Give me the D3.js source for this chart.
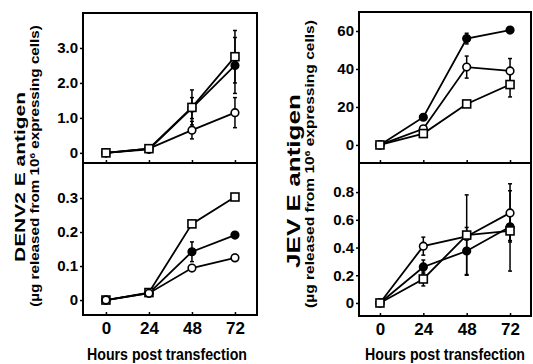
<!DOCTYPE html>
<html>
<head>
<meta charset="utf-8">
<script src="https://cdn.jsdelivr.net/npm/d3@7"></script>
<style>
  body { margin: 0; background: #fff; }
  text { font-family: "Liberation Sans", Arial, sans-serif; font-weight: bold; fill: #000; }
</style>
</head>
<body>
<script>
// hours post transfection
var hours = [0, 24, 48, 72];

// DENV2, upper panel
var denvTopSquare = [0, 0.12, 1.3, 2.75];
var denvTopSquareErr = [0, 0, 0.5, 0.75];
var denvTopFilled = [0, 0.1, 1.28, 2.5];
var denvTopFilledErr = [0, 0, 0.3, 0.8];
var denvTopOpen = [0, 0.12, 0.65, 1.15];
var denvTopOpenErr = [0, 0, 0.25, 0.43];

// DENV2, lower panel
var denvBotSquare = [0, 0.022, 0.224, 0.303];
var denvBotSquareErr = [0, 0, 0, 0];
var denvBotFilled = [0, 0.02, 0.142, 0.191];
var denvBotFilledErr = [0, 0, 0.029, 0.005];
var denvBotOpen = [0, 0.02, 0.094, 0.124];
var denvBotOpenErr = [0, 0, 0.005, 0.01];

// JEV, upper panel
var jevTopFilled = [0, 14.6, 56, 60.5];
var jevTopFilledErr = [0, 0, 2.8, 1];
var jevTopOpen = [0, 8.5, 41, 39];
var jevTopOpenErr = [0, 1.5, 5.8, 6.5];
var jevTopSquare = [0, 6, 21.6, 31.8];
var jevTopSquareErr = [0, 1, 1, 6.5];

// JEV, lower panel
var jevBotOpen = [0, 0.41, 0.48, 0.65];
var jevBotOpenErr = [0, 0.065, 0, 0.21];
var jevBotFilled = [0, 0.26, 0.375, 0.55];
var jevBotFilledErr = [0, 0.05, 0.17, 0.1];
var jevBotSquare = [0, 0.173, 0.49, 0.52];
var jevBotSquareErr = [0, 0.05, 0.29, 0.29];

// y ticks
var denvTopTicks = [0, 1, 2, 3];
var denvTopLabels = ["0", "1.0", "2.0", "3.0"];
var denvBotTicks = [0, 0.1, 0.2, 0.3];
var denvBotLabels = ["0", "0.1", "0.2", "0.3"];
var jevTopTicks = [0, 20, 40, 60];
var jevTopLabels = ["0", "20", "40", "60"];
var jevBotTicks = [0, 0.2, 0.4, 0.6, 0.8];
var jevBotLabels = ["0", "0.2", "0.4", "0.6", "0.8"];

var svg = d3.select("body").append("svg")
    .attr("width", 533)
    .attr("height", 364);

function series(vals, errs, shape) {
    return { shape: shape, pts: hours.map(function (h, i) { return { h: h, v: vals[i], e: errs[i] }; }) };
}

// series listed bottom-most first, so the last one is drawn on top
var panels = [
    { x0: 83, x1: 257, y0: 13, y1: 163, xd: [-12.8, 84.3], yd: [-0.29, 4.0], ticks: denvTopTicks, labels: denvTopLabels, bottom: false,
      series: [series(denvTopFilled, denvTopFilledErr, "fc"), series(denvTopOpen, denvTopOpenErr, "oc"), series(denvTopSquare, denvTopSquareErr, "sq")] },
    { x0: 83, x1: 257, y0: 163, y1: 315, xd: [-12.8, 84.3], yd: [-0.044, 0.403], ticks: denvBotTicks, labels: denvBotLabels, bottom: true,
      series: [series(denvBotFilled, denvBotFilledErr, "fc"), series(denvBotSquare, denvBotSquareErr, "sq"), series(denvBotOpen, denvBotOpenErr, "oc")] },
    { x0: 359, x1: 531, y0: 12, y1: 163, xd: [-11.6, 83.6], yd: [-9.5, 70], ticks: jevTopTicks, labels: jevTopLabels, bottom: false,
      series: [series(jevTopFilled, jevTopFilledErr, "fc"), series(jevTopOpen, jevTopOpenErr, "oc"), series(jevTopSquare, jevTopSquareErr, "sq")] },
    { x0: 359, x1: 531, y0: 163, y1: 316, xd: [-11.6, 83.6], yd: [-0.094, 1.01], ticks: jevBotTicks, labels: jevBotLabels, bottom: true,
      series: [series(jevBotFilled, jevBotFilledErr, "fc"), series(jevBotOpen, jevBotOpenErr, "oc"), series(jevBotSquare, jevBotSquareErr, "sq")] }
];

panels.forEach(function (p) {
    var x = d3.scaleLinear().domain(p.xd).range([p.x0, p.x1]);
    var y = d3.scaleLinear().domain(p.yd).range([p.y1, p.y0]);

    // y axis, ticks outward
    var ya = svg.append("g")
        .attr("transform", "translate(" + p.x0 + ",0)")
        .call(d3.axisLeft(y).tickValues(p.ticks).tickSize(3).tickPadding(2).tickSizeOuter(0)
            .tickFormat(function (d, i) { return p.labels[i]; }));
    ya.select(".domain").remove();
    ya.selectAll("line").attr("stroke", "#000").attr("stroke-width", 1.5);
    ya.selectAll("text").style("font-size", "15px").style("font-family", null);

    // x axis, ticks inward
    var xa = svg.append("g")
        .attr("transform", "translate(0," + p.y1 + ")")
        .call(d3.axisBottom(x).tickValues(hours).tickSize(-3).tickPadding(7).tickSizeOuter(0)
            .tickFormat(p.bottom ? d3.format("d") : ""));
    xa.select(".domain").remove();
    xa.selectAll("line").attr("stroke", "#000").attr("stroke-width", 1.5);
    xa.selectAll("text").style("font-size", "17px").style("font-family", null);

    var line = d3.line().x(function (d) { return x(d.h); }).y(function (d) { return y(d.v); });
    var g = svg.append("g");

    // error bars
    p.series.forEach(function (s) {
        s.pts.filter(function (d) { return d.e > 0; }).forEach(function (d) {
            var cx = x(d.h), t = y(d.v + d.e), b = y(d.v - d.e);
            g.append("line").attr("x1", cx).attr("x2", cx).attr("y1", t).attr("y2", b)
                .attr("stroke", "#000").attr("stroke-width", 1.5);
            [t, b].forEach(function (yy) {
                g.append("line").attr("x1", cx - 2).attr("x2", cx + 2).attr("y1", yy).attr("y2", yy)
                    .attr("stroke", "#000").attr("stroke-width", 1.5);
            });
        });
    });

    // lines
    p.series.forEach(function (s) {
        g.append("path").attr("d", line(s.pts)).attr("fill", "none")
            .attr("stroke", "#000").attr("stroke-width", 1.8);
    });

    // markers
    p.series.forEach(function (s) {
        s.pts.forEach(function (d) {
            var cx = x(d.h), cy = y(d.v);
            if (s.shape === "sq") {
                g.append("rect").attr("x", cx - 4).attr("y", cy - 4).attr("width", 8).attr("height", 8)
                    .attr("fill", "#fff").attr("stroke", "#000").attr("stroke-width", 1.6);
            } else {
                g.append("circle").attr("cx", cx).attr("cy", cy).attr("r", 3.8)
                    .attr("fill", s.shape === "fc" ? "#000" : "#fff")
                    .attr("stroke", "#000").attr("stroke-width", 1.6);
            }
        });
    });
});

// frames with divider
[[83, 257, 13, 163, 315], [359, 531, 12, 163, 316]].forEach(function (f) {
    svg.append("rect").attr("x", f[0]).attr("y", f[2]).attr("width", f[1] - f[0]).attr("height", f[4] - f[2])
        .attr("fill", "none").attr("stroke", "#000").attr("stroke-width", 2);
    svg.append("line").attr("x1", f[0]).attr("x2", f[1]).attr("y1", f[3]).attr("y2", f[3])
        .attr("stroke", "#000").attr("stroke-width", 2);
});

// x titles
[[167, "Hours post transfection"], [445, "Hours post transfection"]].forEach(function (t) {
    svg.append("text")
        .attr("transform", "translate(" + t[0] + ",360) scale(1,1.16)")
        .attr("text-anchor", "middle")
        .attr("textLength", 160)
        .attr("lengthAdjust", "spacingAndGlyphs")
        .style("font-size", "14px")
        .text(t[1]);
});

// y titles: stretched along their length to the span seen in the picture
function yTitle(xc, yc, size, len, parts) {
    var t = svg.append("text")
        .attr("text-anchor", "middle")
        .attr("dy", "0.35em")
        .style("font-size", size + "px");
    parts.forEach(function (pt) {
        var ts = t.append("tspan").text(pt[0]);
        if (pt[1]) ts.style("font-size", (size * 0.65) + "px").attr("dy", "-0.55em");
        if (pt[2]) ts.attr("dy", (0.36 * size) + "px");
    });
    var k = len / t.node().getComputedTextLength();
    t.attr("transform", "translate(" + xc + "," + yc + ") rotate(-90) scale(" + k + ",1)");
}
yTitle(20, 177, 15, 170, [["DENV2 E antigen"]]);
yTitle(35, 166, 12.5, 282, [["(\u00b5g released from 10"], ["6", true], [" expressing cells)", false, true]]);
yTitle(294, 181, 17.5, 174, [["JEV E antigen"]]);
yTitle(310, 164, 12.5, 288, [["(\u00b5g released  from 10"], ["6", true], [" expressing cells)", false, true]]);
</script>
</body>
</html>
